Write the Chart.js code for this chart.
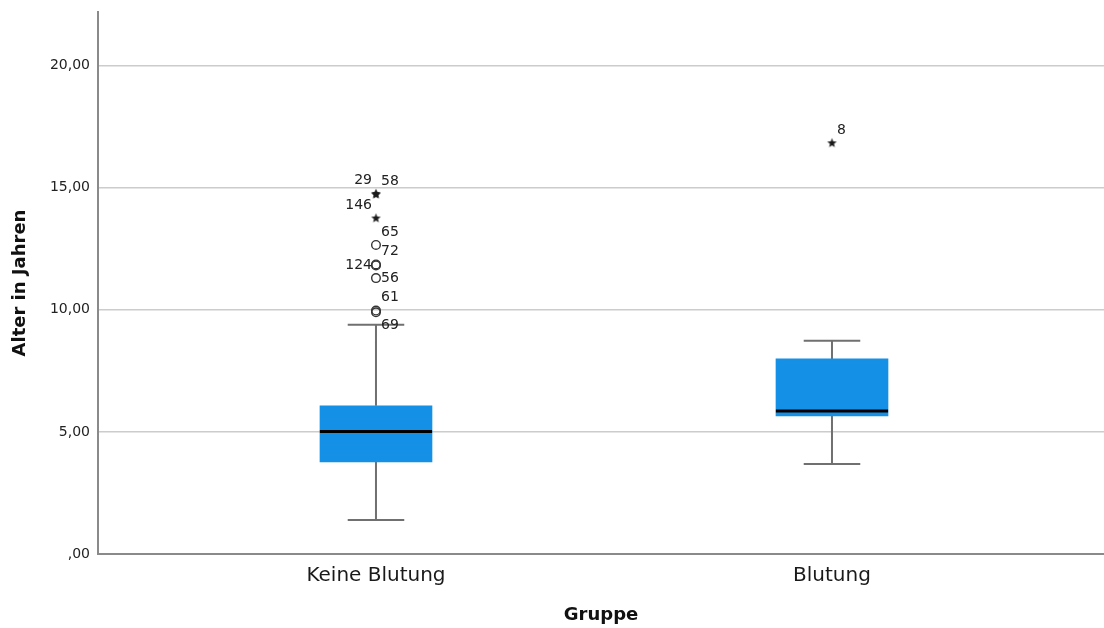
<!DOCTYPE html>
<html lang="de">
<head>
<meta charset="utf-8">
<title>Alter in Jahren nach Gruppe</title>
<script src="https://cdn.jsdelivr.net/npm/chart.js@4/dist/chart.umd.min.js"></script>
<style>
  html, body { margin: 0; padding: 0; background: #fff; }
  #wrap { width: 1104px; height: 628px; position: relative; }
</style>
</head>
<body>
<div id="wrap"><canvas id="boxplot"></canvas></div>
<script>
// Gruppen und Kennwerte der Boxplots
const groups = ['Keine Blutung', 'Blutung'];
const whiskerLow = [1.39, 3.69];
const q1 = [3.77, 5.66];
const median = [5.02, 5.86];
const q3 = [6.07, 7.99];
const whiskerHigh = [9.39, 8.73];

// Ausreißer (Fallnummer, Gruppe, Wert, extrem = Stern)
const outlierId = [29, 58, 146, 65, 72, 124, 56, 61, 69, 8];
const outlierGroup = [0, 0, 0, 0, 0, 0, 0, 0, 0, 1];
const outlierValue = [14.77, 14.73, 13.76, 12.66, 11.86, 11.82, 11.30, 9.97, 9.90, 16.84];
const outlierExtreme = [true, true, true, false, false, false, false, false, false, true];
const labelSide = ['nw', 'ne', 'nw', 'ne', 'ne', 'w', 'e', 'ne', 'se', 'ne'];

const yTicks = [0, 5, 10, 15, 20];

// Darstellung
const BOX_HALF = 0.123;   // halbe Boxbreite in x-Einheiten
const CAP_HALF = 0.062;   // halbe Whisker-Endbreite
const boxBlue = '#1490E6';
const whiskerGrey = '#707070';
const FONT = "'DejaVu Sans', 'Open Sans', sans-serif";

const fmtDe = v => (v === 0 ? ',00' : v.toFixed(2).replace('.', ','));

// kleiner gefüllter Stern als Punktsymbol (wie SPSS)
function makeStar() {
  const c = document.createElement('canvas');
  c.width = 11; c.height = 11;
  const g = c.getContext('2d');
  g.fillStyle = '#1a1a1a';
  g.beginPath();
  for (let k = 0; k < 10; k++) {
    const r = k % 2 === 0 ? 5 : 2.1;
    const a = -Math.PI / 2 + k * Math.PI / 5;
    g.lineTo(5.5 + r * Math.cos(a), 5.8 + r * Math.sin(a));
  }
  g.closePath();
  g.fill();
  return c;
}

function segments(pairs) {
  const out = [];
  pairs.forEach(([a, b]) => { out.push(a, b, { x: b.x, y: null }); });
  return out;
}

const boxData = groups.map((g, i) => ({ x: i, y: [q1[i], q3[i]] }));
const medianData = segments(groups.map((g, i) => [
  { x: i - BOX_HALF, y: median[i] }, { x: i + BOX_HALF, y: median[i] }
]));
const whiskerData = segments(groups.flatMap((g, i) => [
  [{ x: i, y: q3[i] }, { x: i, y: whiskerHigh[i] }],
  [{ x: i, y: whiskerLow[i] }, { x: i, y: q1[i] }]
]));
const capData = segments(groups.flatMap((g, i) => [
  [{ x: i - CAP_HALF, y: whiskerHigh[i] }, { x: i + CAP_HALF, y: whiskerHigh[i] }],
  [{ x: i - CAP_HALF, y: whiskerLow[i] }, { x: i + CAP_HALF, y: whiskerLow[i] }]
]));

function pickOutliers(extreme) {
  const pts = [], ids = [], sides = [];
  outlierId.forEach((id, k) => {
    if (outlierExtreme[k] !== extreme) return;
    pts.push({ x: outlierGroup[k], y: outlierValue[k] });
    ids.push(id);
    sides.push(labelSide[k]);
  });
  return { pts, ids, sides };
}
const extremes = pickOutliers(true);
const milds = pickOutliers(false);

// Fallnummern neben die Ausreißer schreiben
const outlierLabels = {
  id: 'outlierLabels',
  afterDatasetsDraw(chart) {
    const ctx = chart.ctx;
    const offs = {
      ne: [5, -13, 'left'], nw: [-4, -13, 'right'],
      e: [5, 0, 'left'], w: [-4, 0, 'right'], se: [5, 13, 'left']
    };
    ctx.save();
    ctx.font = '14px ' + FONT;
    ctx.fillStyle = '#222';
    ctx.textBaseline = 'middle';
    chart.data.datasets.forEach((ds, di) => {
      if (!ds.ids) return;
      chart.getDatasetMeta(di).data.forEach((el, j) => {
        const [dx, dy, align] = offs[ds.sides[j]];
        ctx.textAlign = align;
        ctx.fillText(String(ds.ids[j]), el.x + dx, el.y + dy);
      });
    });
    ctx.restore();
  }
};

new Chart(document.getElementById('boxplot'), {
  type: 'bar',
  data: {
    datasets: [
      { type: 'bar', data: boxData, backgroundColor: boxBlue, borderWidth: 0,
        barThickness: 112, grouped: false, order: 5 },
      { type: 'line', data: whiskerData, borderColor: whiskerGrey, borderWidth: 2,
        pointRadius: 0, spanGaps: false, order: 6 },
      { type: 'line', data: capData, borderColor: whiskerGrey, borderWidth: 2,
        pointRadius: 0, spanGaps: false, order: 4 },
      { type: 'line', data: medianData, borderColor: '#000', borderWidth: 3,
        pointRadius: 0, spanGaps: false, order: 3 },
      { type: 'scatter', data: milds.pts, ids: milds.ids, sides: milds.sides,
        pointStyle: 'circle', pointRadius: 4.3, backgroundColor: 'rgba(0,0,0,0)',
        borderColor: '#333', borderWidth: 1.4, order: 2 },
      { type: 'scatter', data: extremes.pts, ids: extremes.ids, sides: extremes.sides,
        pointStyle: makeStar(), pointRadius: 5, order: 1 }
    ]
  },
  options: {
    responsive: true,
    maintainAspectRatio: false,
    animation: false,
    layout: { autoPadding: false, padding: { top: 12, right: 0, left: 0, bottom: 0 } },
    plugins: { legend: { display: false }, tooltip: { enabled: false } },
    scales: {
      x: {
        type: 'linear',
        min: -0.6096,
        max: 1.5965,
        offset: false,
        grid: { display: false, drawTicks: false },
        border: { color: '#8a8a8a', width: 2 },
        afterBuildTicks: s => { s.ticks = groups.map((g, i) => ({ value: i })); },
        afterFit: s => { s.height = 74; s.paddingLeft = 0; s.paddingRight = 0; },
        ticks: {
          font: { family: FONT, size: 20 },
          color: '#1a1a1a',
          padding: 10,
          maxRotation: 0,
          autoSkip: false,
          callback: v => groups[v] ?? ''
        },
        title: {
          display: true,
          text: 'Gruppe',
          font: { family: FONT, size: 18, weight: 'bold' },
          color: '#111',
          padding: { top: 0, bottom: 2 }
        }
      },
      y: {
        min: 0,
        max: 22.2,
        grid: { color: '#cccccc', lineWidth: 1.5, drawTicks: false },
        border: { color: '#8a8a8a', width: 2 },
        afterBuildTicks: s => { s.ticks = yTicks.map(v => ({ value: v })); },
        afterFit: s => { s.width = 98; s.paddingTop = 0; s.paddingBottom = 0; },
        ticks: {
          font: { family: FONT, size: 14 },
          color: '#222',
          padding: 8,
          callback: v => fmtDe(v)
        },
        title: {
          display: true,
          text: 'Alter in Jahren',
          font: { family: FONT, size: 18, weight: 'bold' },
          color: '#111',
          padding: { top: 10, bottom: 0 }
        }
      }
    }
  },
  plugins: [outlierLabels]
});
</script>
</body>
</html>
